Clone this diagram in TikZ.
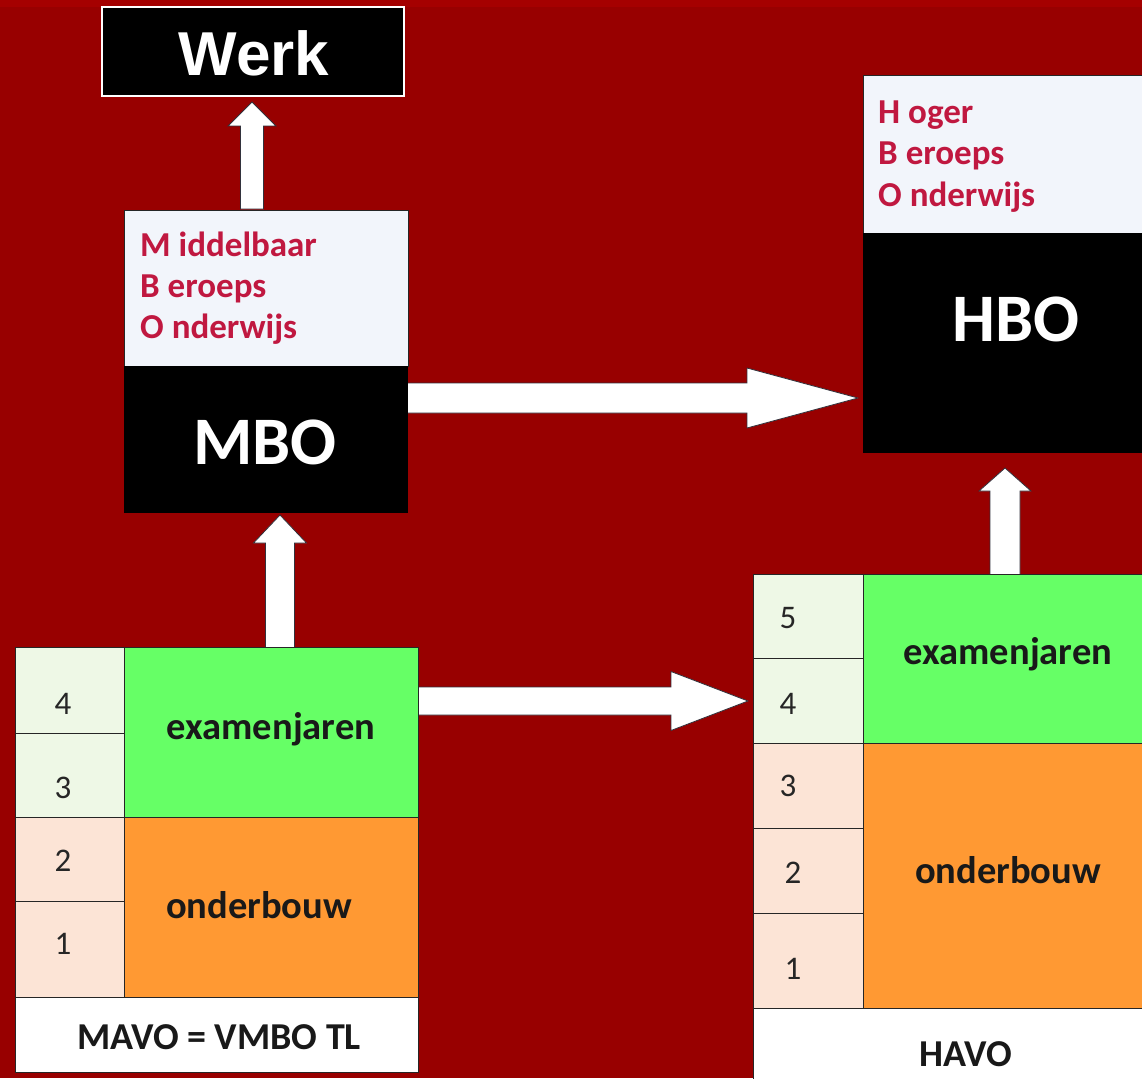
\documentclass[tikz,border=0pt]{standalone}
\usepackage{fontspec}
\setmainfont{Carlito}
\newfontfamily\arialf{Liberation Sans}
\usetikzlibrary{calc}
\definecolor{bgred}{RGB}{152,0,0}
\definecolor{topred}{RGB}{165,0,0}
\definecolor{crim}{RGB}{192,24,64}
\definecolor{paleblue}{RGB}{242,245,251}
\definecolor{exgreen}{RGB}{102,255,102}
\definecolor{obor}{RGB}{255,153,51}
\definecolor{palegreen}{RGB}{238,248,230}
\definecolor{peach}{RGB}{252,228,214}
\definecolor{arrowline}{RGB}{50,50,60}
\pgfdeclarelayer{back}
\pgfdeclarelayer{arrows}
\pgfsetlayers{back,arrows,main}
\newcommand\blkup[5]{%
  \draw[barrow] let \p1=(#1), \p2=(#2) in
    (\x1-#3,\y1) -- (\x1-#3,\y2-#5) -- (\x1-#4,\y2-#5) -- (\x1,\y2) --
    (\x1+#4,\y2-#5) -- (\x1+#3,\y2-#5) -- (\x1+#3,\y1) -- cycle;}
\newcommand\blkright[5]{%
  \draw[barrow] let \p1=(#1), \p2=(#2) in
    (\x1,\y1+#3) -- (\x2-#5,\y1+#3) -- (\x2-#5,\y1+#4) -- (\x2,\y1) --
    (\x2-#5,\y1-#4) -- (\x2-#5,\y1-#3) -- (\x1,\y1-#3) -- cycle;}
\begin{document}
\begin{tikzpicture}[x=1pt,y=-1pt,
  box/.style={inner sep=0pt, outer sep=0pt, anchor=north west},
  cell/.style={box, draw=black!85, line width=0.9pt},
  barrow/.style={fill=white, draw=arrowline, line width=0.8pt, line join=miter},
  crimtxt/.style={text=crim, font=\bfseries\fontsize{35}{40}\selectfont, anchor=base west, inner sep=0pt},
  bigwhite/.style={text=white, font=\bfseries\fontsize{68}{72}\selectfont, inner sep=0pt, anchor=base},
  lbl/.style={font=\bfseries\fontsize{38.5}{44}\selectfont, text=black!90, anchor=base, inner sep=0pt},
  namelbl/.style={font=\bfseries\fontsize{38}{44}\selectfont, text=black!90, anchor=base, inner sep=0pt},
  num/.style={font=\fontsize{33}{38}\selectfont, text=black!85, anchor=base, inner sep=0pt},
]
\clip (0,0) rectangle (1142,1078);
\begin{pgfonlayer}{back}
  \fill[bgred] (0,0) rectangle (1142,1078);
  \fill[topred] (0,0) rectangle (1142,7);
\end{pgfonlayer}

% Werk
\node[box, fill=black, draw=white, line width=1.2pt, minimum width=302pt, minimum height=89pt] (werk) at (102,7) {};
\node[font=\arialf\bfseries\fontsize{62}{70}\selectfont, text=white, anchor=base, inner sep=0pt] (werkt) at (254,76) {Werk};

% MBO
\node[cell, fill=paleblue, minimum width=284pt, minimum height=156pt] (mbotop) at (124,210) {};
\node[box, fill=black, minimum width=284pt, minimum height=147pt] (mbo) at (124,366) {};
\node[crimtxt] (m1) at (140,256) {M iddelbaar};
\node[crimtxt] (m2) at (140,297) {B eroeps};
\node[crimtxt] (m3) at (140,338) {O nderwijs};
\node[bigwhite] (mbot) at (265,464) {MBO};

% HBO
\node[cell, fill=paleblue, minimum width=300pt, minimum height=158pt] (hbotop) at (863,75) {};
\node[box, fill=black, minimum width=300pt, minimum height=220pt] (hbo) at (863,233) {};
\node[crimtxt] (h1) at (878,124) {H oger};
\node[crimtxt] (h2) at (878,165) {B eroeps};
\node[crimtxt] (h3) at (878,206) {O nderwijs};
\node[bigwhite] (hbot) at (1016,341) {HBO};

% left table (MAVO)
\node[cell, fill=palegreen, minimum width=109pt, minimum height=86pt] (n4) at (15,647) {};
\node[cell, fill=palegreen, minimum width=109pt, minimum height=84pt] (n3) at (15,733) {};
\node[cell, fill=peach, minimum width=109pt, minimum height=84pt] (n2) at (15,817) {};
\node[cell, fill=peach, minimum width=109pt, minimum height=96pt] (n1) at (15,901) {};
\node[cell, fill=exgreen, minimum width=294pt, minimum height=170pt] (lex) at (124,647) {};
\node[cell, fill=obor, minimum width=294pt, minimum height=180pt] (lob) at (124,817) {};
\node[cell, fill=white, minimum width=403pt, minimum height=75pt] (lname) at (15,997) {};
\node[num] (t4) at (63,714) {4};
\node[num] (t3) at (63,798) {3};
\node[num] (t2) at (63,871) {2};
\node[num] (t1) at (63,954) {1};
\node[lbl] (lext) at (271,739) {examenjaren};
\node[lbl] (lobt) at (259,918) {onderbouw};
\node[namelbl] (lnamet) at (219,1049) {MAVO = VMBO TL};

% right table (HAVO)
\node[cell, fill=palegreen, minimum width=110pt, minimum height=84pt] (r5) at (753,574) {};
\node[cell, fill=palegreen, minimum width=110pt, minimum height=85pt] (r4) at (753,658) {};
\node[cell, fill=peach, minimum width=110pt, minimum height=85pt] (r3) at (753,743) {};
\node[cell, fill=peach, minimum width=110pt, minimum height=85pt] (r2) at (753,828) {};
\node[cell, fill=peach, minimum width=110pt, minimum height=95pt] (r1) at (753,913) {};
\node[cell, fill=exgreen, minimum width=300pt, minimum height=169pt] (rex) at (863,574) {};
\node[cell, fill=obor, minimum width=300pt, minimum height=265pt] (rob) at (863,743) {};
\node[cell, fill=white, minimum width=400pt, minimum height=100pt] (rname) at (753,1008) {};
\node[num] (s5) at (788,628) {5};
\node[num] (s4) at (788,714) {4};
\node[num] (s3) at (788,796) {3};
\node[num] (s2) at (793,883) {2};
\node[num] (s1) at (793,979) {1};
\node[lbl] (rext) at (1008,664) {examenjaren};
\node[lbl] (robt) at (1008,883) {onderbouw};
\node[namelbl] (rnamet) at (966,1066) {HAVO};

% arrow end points
\coordinate (w0) at (252,209);  \coordinate (w1) at (252,102);
\coordinate (a0) at (405,398);  \coordinate (a1) at (858,398);
\coordinate (b0) at (416,701);  \coordinate (b1) at (748,701);
\coordinate (c0) at (280,648);  \coordinate (c1) at (280,515);
\coordinate (d0) at (1005,576); \coordinate (d1) at (1005,468);

\begin{pgfonlayer}{arrows}
  \blkup{w0}{w1}{11.5pt}{24pt}{24pt}
  \blkright{a0}{a1}{15pt}{30pt}{111pt}
  \blkright{b0}{b1}{14pt}{29.5pt}{77pt}
  \blkup{c0}{c1}{14.5pt}{26.5pt}{28pt}
  \blkup{d0}{d1}{15pt}{26pt}{23pt}
\end{pgfonlayer}
\end{tikzpicture}
\end{document}
